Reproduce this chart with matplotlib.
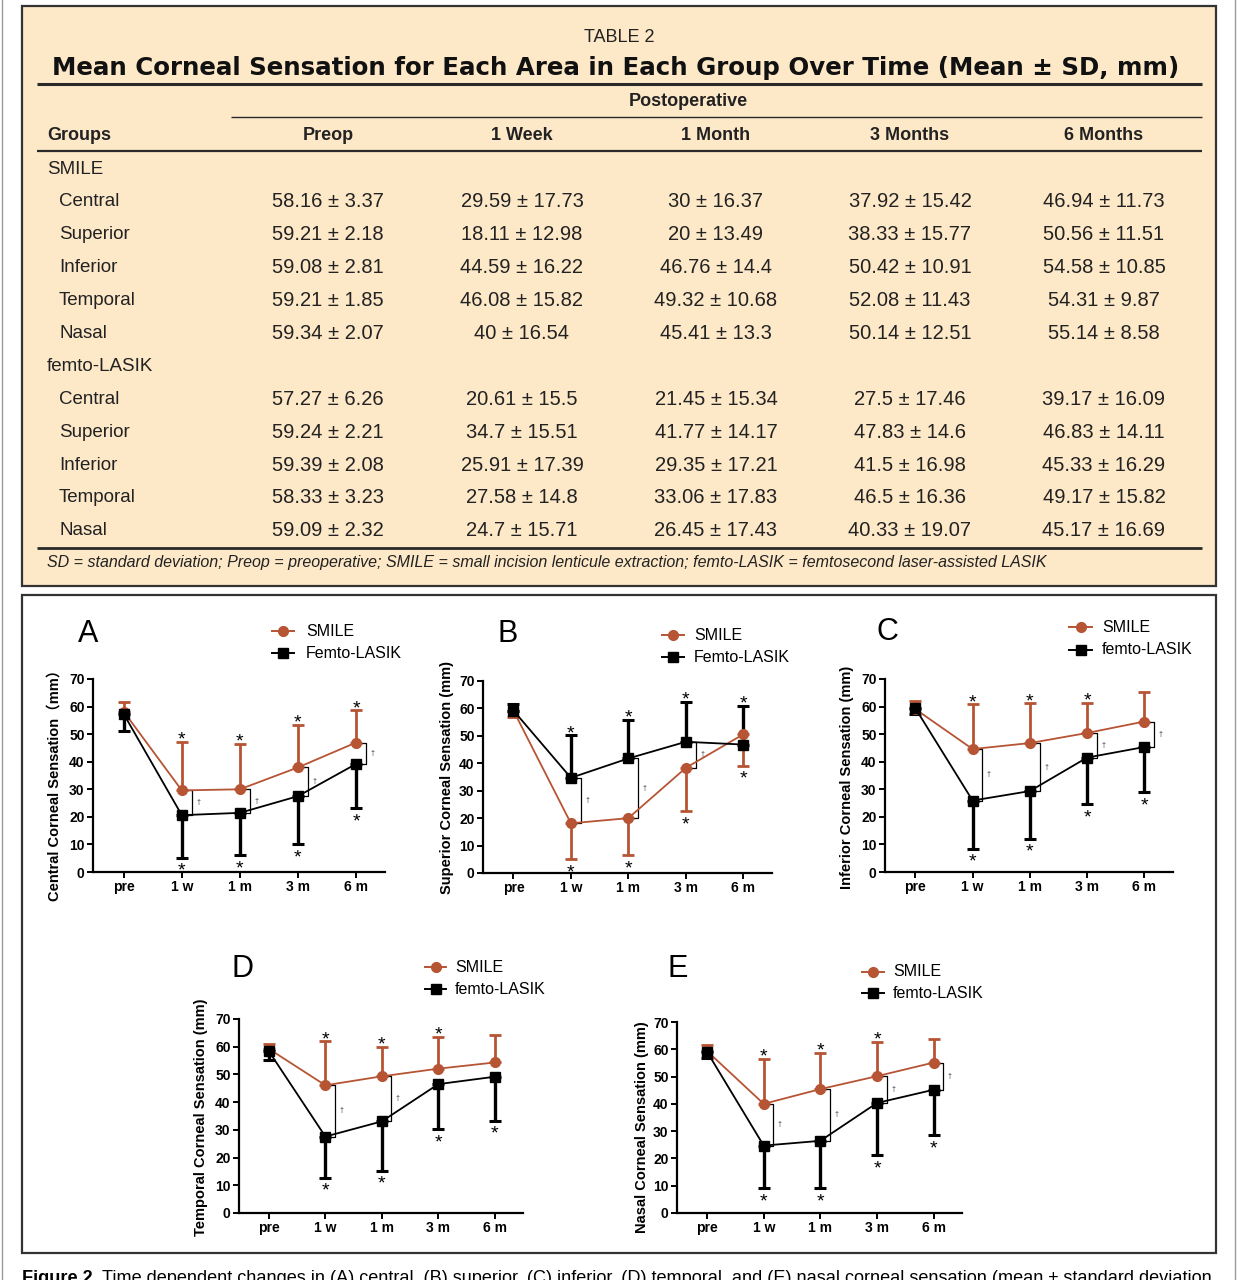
import matplotlib
matplotlib.use('Agg')
import matplotlib.pyplot as plt
from matplotlib.lines import Line2D
from matplotlib.patches import Rectangle

# canvas in pixels
W, H = 1238, 1280
fig = plt.figure(figsize=(W / 100, H / 100), dpi=100)
plt.rcParams['font.family'] = ['Liberation Sans', 'Noto Sans CJK SC', 'DejaVu Sans']

# data (mean, sd) per area and group
times = ['pre', '1 w', '1 m', '3 m', '6 m']
columns = ['Preop', '1 Week', '1 Month', '3 Months', '6 Months']
areas = ['Central', 'Superior', 'Inferior', 'Temporal', 'Nasal']

smile_central = [58.16, 29.59, 30, 37.92, 46.94]
smile_central_sd = [3.37, 17.73, 16.37, 15.42, 11.73]
smile_superior = [59.21, 18.11, 20, 38.33, 50.56]
smile_superior_sd = [2.18, 12.98, 13.49, 15.77, 11.51]
smile_inferior = [59.08, 44.59, 46.76, 50.42, 54.58]
smile_inferior_sd = [2.81, 16.22, 14.4, 10.91, 10.85]
smile_temporal = [59.21, 46.08, 49.32, 52.08, 54.31]
smile_temporal_sd = [1.85, 15.82, 10.68, 11.43, 9.87]
smile_nasal = [59.34, 40, 45.41, 50.14, 55.14]
smile_nasal_sd = [2.07, 16.54, 13.3, 12.51, 8.58]

femto_central = [57.27, 20.61, 21.45, 27.5, 39.17]
femto_central_sd = [6.26, 15.5, 15.34, 17.46, 16.09]
femto_superior = [59.24, 34.7, 41.77, 47.83, 46.83]
femto_superior_sd = [2.21, 15.51, 14.17, 14.6, 14.11]
femto_inferior = [59.39, 25.91, 29.35, 41.5, 45.33]
femto_inferior_sd = [2.08, 17.39, 17.21, 16.98, 16.29]
femto_temporal = [58.33, 27.58, 33.06, 46.5, 49.17]
femto_temporal_sd = [3.23, 14.8, 17.83, 16.36, 15.82]
femto_nasal = [59.09, 24.7, 26.45, 40.33, 45.17]
femto_nasal_sd = [2.32, 15.71, 17.43, 19.07, 16.69]

smile_means = [smile_central, smile_superior, smile_inferior, smile_temporal, smile_nasal]
smile_sds = [smile_central_sd, smile_superior_sd, smile_inferior_sd, smile_temporal_sd, smile_nasal_sd]
femto_means = [femto_central, femto_superior, femto_inferior, femto_temporal, femto_nasal]
femto_sds = [femto_central_sd, femto_superior_sd, femto_inferior_sd, femto_temporal_sd, femto_nasal_sd]

# significance marks per panel
smile_stars = [[1, 2, 3, 4], [1, 2, 3, 4], [1, 2, 3], [1, 2, 3], [1, 2, 3]]
femto_stars = [[1, 2, 3, 4]] * 5
daggers = [[1, 2, 3, 4], [1, 2, 3], [1, 2, 3, 4], [1, 2], [1, 2, 3, 4]]
smile_up = [True, False, True, True, True]
ylabels = ['Central Corneal Sensation（mm）', 'Superior Corneal Sensation (mm)',
           'Inferior Corneal Sensation (mm)', 'Temporal Corneal Sensation (mm)',
           'Nasal Corneal Sensation (mm)']
letters = ['A', 'B', 'C', 'D', 'E']
femto_names = ['Femto-LASIK', 'Femto-LASIK', 'femto-LASIK', 'femto-LASIK', 'femto-LASIK']

RED = '#b65434'
TAN = '#fde8c8'


def fx(x):
    return x / W


def fy(y):
    return 1 - y / H


def hline(x0, x1, y, lw, color='#2a2a2a'):
    fig.add_artist(Line2D([fx(x0), fx(x1)], [fy(y), fy(y)], transform=fig.transFigure,
                          lw=lw, color=color, solid_capstyle='butt'))


def fit_text(x0, x1, y, s, size, **kw):
    t = fig.text(fx(x0), fy(y), s, fontsize=size, **kw)
    w = t.get_window_extent(fig.canvas.get_renderer()).width
    t.set_fontsize(size * (x1 - x0) / w)
    return t


# page edges
for xe in [2, 1235]:
    fig.add_artist(Line2D([fx(xe), fx(xe)], [0, 1], transform=fig.transFigure, lw=1, color='#9a9a9a'))

# ---------------- table ----------------
fig.add_artist(Rectangle((fx(22), fy(586)), fx(1216) - fx(22), fy(6) - fy(586), zorder=-5,
                         transform=fig.transFigure, facecolor=TAN, edgecolor='#333333', lw=1.6))
fig.text(fx(619), fy(38), 'TABLE 2', fontsize=13, ha='center', va='center', color='#222')
fit_text(52, 1185, 75, 'Mean Corneal Sensation for Each Area in Each Group Over Time (Mean ± SD, mm)',
         17, family='DejaVu Sans', fontweight='bold', va='baseline', color='#111')
hline(37, 1202, 84, 2.2)
fig.text(fx(688), fy(102), 'Postoperative', fontsize=13, fontweight='bold', ha='center', va='center', color='#222')
hline(231, 1202, 117, 1.0)
fig.text(fx(47), fy(136), 'Groups', fontsize=13, fontweight='bold', va='center', color='#222')
col_x = [328, 522, 716, 910, 1104]
for cx, c in zip(col_x, columns):
    fig.text(fx(cx), fy(136), c, fontsize=13, fontweight='bold', ha='center', va='center', color='#222')
hline(37, 1202, 151, 1.6)

row_y = 169
for group, means, sds in [('SMILE', smile_means, smile_sds), ('femto-LASIK', femto_means, femto_sds)]:
    fig.text(fx(47), fy(row_y), group, fontsize=13.5, va='center', color='#222')
    row_y += 32.9
    for a, m, s in zip(areas, means, sds):
        fig.text(fx(59), fy(row_y), a, fontsize=13.5, va='center', color='#222')
        for cx, mv, sv in zip(col_x, m, s):
            fig.text(fx(cx), fy(row_y), f'{mv:g} ± {sv:g}', fontsize=14.5, ha='center', va='center', color='#222')
        row_y += 32.9
hline(37, 1202, 548, 2.0)
fit_text(47, 1043, 567, 'SD = standard deviation; Preop = preoperative; SMILE = small incision lenticule '
         'extraction; femto-LASIK = femtosecond laser-assisted LASIK', 11, style='italic',
         va='baseline', color='#222')

# ---------------- figure panel ----------------
fig.add_artist(Rectangle((fx(22), fy(1253)), fx(1216) - fx(22), fy(595) - fy(1253), zorder=-5,
                         transform=fig.transFigure, facecolor='white', edgecolor='#333333', lw=1.6))

# axes boxes in px: left, right, top(70), bottom(0)
boxes = [(93, 385, 679, 872), (483, 772, 681, 873), (885, 1173, 679, 872),
         (239, 523, 1019, 1213), (677, 962, 1022, 1213)]
letter_pos = [(78, 642), (497, 642), (877, 640), (232, 977), (668, 977)]
ylabel_pos = [(55, 782), (447, 777), (847, 777), (201, 1117), (642, 1127)]
# legend: line x0, x1, text x, row1 y, row2 y
legend_pos = [(272, 294, 306, 631, 653), (662, 684, 694, 635, 657), (1069, 1092, 1102, 627, 650),
              (425, 446, 455, 967, 989), (862, 884, 893, 972, 993)]

x = list(range(len(times)))
zeros = [0] * len(times)
d = 0.17


def star(ax, xi, yi, up):
    off = -2 if up else -13
    ax.annotate('*', (xi, yi), xytext=(0, off), textcoords='offset points',
                ha='center', va='baseline', fontsize=14, annotation_clip=False)


for k in range(5):
    l, r, t, b = boxes[k]
    ax = fig.add_axes([fx(l), fy(b), fx(r) - fx(l), fy(t) - fy(b)])
    sm, ss = smile_means[k], smile_sds[k]
    fm, fs = femto_means[k], femto_sds[k]
    if smile_up[k]:
        sm_err, fe_err = [zeros, ss], [fs, zeros]
    else:
        sm_err, fe_err = [ss, zeros], [zeros, fs]
    ax.errorbar(x, sm, yerr=sm_err, fmt='none', ecolor=RED, elinewidth=2.0, capsize=4, capthick=2.0, zorder=2)
    ax.errorbar(x, fm, yerr=fe_err, fmt='none', ecolor='black', elinewidth=2.4, capsize=4, capthick=2.2, zorder=2)
    ax.plot(x, sm, color=RED, lw=1.3, marker='o', ms=7, zorder=3)
    ax.plot(x, fm, color='black', lw=1.3, marker='s', ms=7, zorder=4)

    # stars on error bar ends
    for i in smile_stars[k]:
        if smile_up[k]:
            star(ax, i, sm[i] + ss[i], True)
        else:
            star(ax, i, sm[i] - ss[i], False)
    for i in femto_stars[k]:
        if smile_up[k]:
            star(ax, i, fm[i] - fs[i], False)
        else:
            star(ax, i, fm[i] + fs[i], True)

    # brackets between groups
    for i in daggers[k]:
        ax.plot([i, i + d, i + d, i], [sm[i], sm[i], fm[i], fm[i]], color='black', lw=0.9, zorder=1,
                clip_on=False)
        ax.text(i + d + 0.08, (sm[i] + fm[i]) / 2, '†', fontsize=5, ha='left', va='center', color='#333')

    ax.set_xlim(-0.53, 4.5)
    ax.set_ylim(0, 70)
    ax.set_xticks(x)
    ax.set_xticklabels(times)
    ax.set_yticks(range(0, 71, 10))
    for sp in ['top', 'right']:
        ax.spines[sp].set_visible(False)
    for sp in ['left', 'bottom']:
        ax.spines[sp].set_linewidth(1.6)
    ax.tick_params(direction='out', length=4, width=1.4, labelsize=10, pad=2)
    for lab in ax.get_xticklabels() + ax.get_yticklabels():
        lab.set_fontweight('bold')
    ax.patch.set_visible(False)

    fig.text(fx(ylabel_pos[k][0]), fy(ylabel_pos[k][1]), ylabels[k], rotation=90, ha='center', va='center',
             fontsize=10.5, fontweight='bold')
    fig.text(fx(letter_pos[k][0]), fy(letter_pos[k][1]), letters[k], fontsize=22, va='baseline', ha='left')

    x0, x1, xt, y1, y2 = legend_pos[k]
    for yy, col, mk, name in [(y1, RED, 'o', 'SMILE'), (y2, 'black', 's', femto_names[k])]:
        fig.add_artist(Line2D([fx(x0), fx((x0 + x1) / 2), fx(x1)], [fy(yy)] * 3, transform=fig.transFigure,
                              color=col, lw=1.4, marker=mk, ms=7, markevery=[1]))
        fig.text(fx(xt), fy(yy), name, fontsize=11.5, va='center', ha='left')

# caption, partly cut by the bottom edge (as in the source page)
r = fig.canvas.get_renderer()
cb = fig.text(fx(22), fy(1283), 'Figure 2.', fontsize=12, fontweight='bold', va='baseline')
rest = 'Time dependent changes in (A) central, (B) superior, (C) inferior, (D) temporal, and (E) nasal corneal sensation (mean ± standard deviation'
wb = cb.get_window_extent(r).width
cr = fig.text(fx(22 + wb + 4), fy(1283), rest, fontsize=12, va='baseline')
wr = cr.get_window_extent(r).width
kf = (1216 - 22) / (wb + 4 + wr)
cb.set_fontsize(12 * kf)
wb = cb.get_window_extent(r).width
cr.set_fontsize(12 * kf)
cr.set_x(fx(22 + wb + 4 * kf))

fig.savefig('out.png', dpi=100)
